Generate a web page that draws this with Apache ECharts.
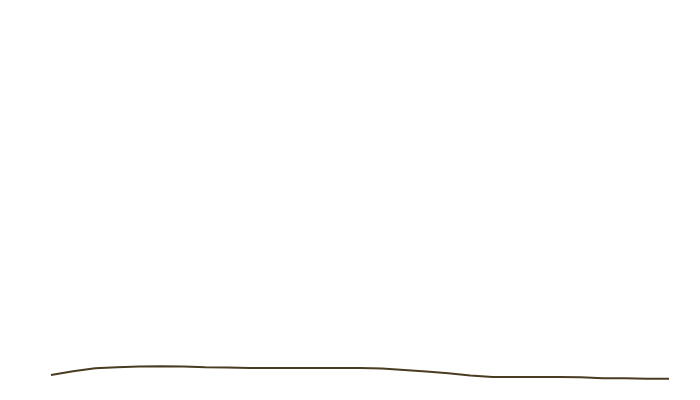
<!DOCTYPE html>
<html>
<head>
<meta charset="utf-8">
<script src="https://cdn.jsdelivr.net/npm/echarts@6/dist/echarts.min.js"></script>
<style>html,body{margin:0;padding:0;background:#fff}#c{width:700px;height:400px}</style>
</head>
<body>
<div id="c"></div>
<script>
const categories = ['1990','1991','1992','1993','1994','1995','1996','1997','1998','1999','2000','2001','2002','2003','2004','2005','2006','2007','2008','2009','2010','2011','2012','2013','2014','2015','2016','2017','2018'];
const values = [1.47,2.59,3.47,3.74,3.97,4.03,4.0,3.74,3.71,3.53,3.53,3.53,3.53,3.53,3.53,3.35,2.94,2.5,1.97,1.32,0.88,0.88,0.88,0.88,0.82,0.53,0.5,0.35,0.35];

const chart = echarts.init(document.getElementById('c'), null, {renderer:'canvas'});
chart.setOption({
  animation: false,
  backgroundColor: '#ffffff',
  grid: {left: 51, right: 31, top: 40, bottom: 20},
  xAxis: {type: 'category', data: categories, boundaryGap: false, show: false},
  yAxis: {type: 'value', min: 0, max: 100, show: false},
  series: [{
    type: 'line',
    data: values,
    showSymbol: false,
    lineStyle: {color: '#4a3c22', width: 2},
    itemStyle: {color: '#4a3c22'}
  }]
});
</script>
</body>
</html>
